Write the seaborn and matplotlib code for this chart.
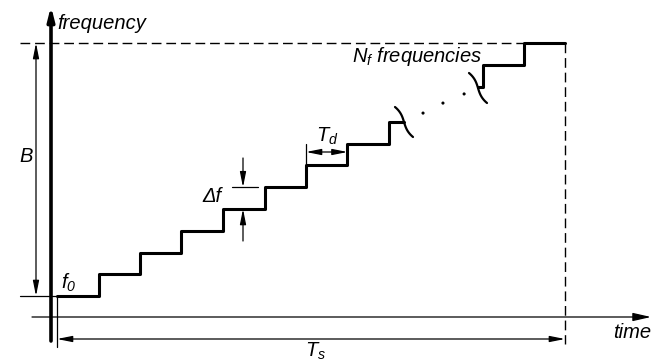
import numpy as np
import pandas as pd
import matplotlib
matplotlib.use("Agg")
import matplotlib.pyplot as plt
import seaborn as sns

# ---- data (time in units of step duration T_d, frequency in units of step size Δf)
first_times = [0, 1, 2, 3, 4, 5, 6, 7, 8, 8.35]
first_levels = [0, 1, 2, 3, 4, 5, 6, 7, 8, 8]
last_times = [10.14, 10.27, 11.25, 12.24]
last_levels = [9.61, 10.62, 11.63, 11.63]
ellipsis_times = [8.82, 9.30, 9.81]
ellipsis_levels = [8.41, 8.87, 9.29]
bandwidth = 11.63    # B
sweep_time = 12.24   # T_s

sns.set_style("white")
plt.rcParams["font.family"] = ["Liberation Sans", "DejaVu Sans"]
plt.rcParams["mathtext.fontset"] = "custom"
plt.rcParams["mathtext.it"] = "Liberation Sans:italic"
plt.rcParams["mathtext.rm"] = "Liberation Sans:italic"

fig = plt.figure(figsize=(6.52, 3.62), dpi=100)
ax = fig.add_axes([0, 0, 1, 1])
ax.set_axis_off()

# layout: pixel -> data helper
X0, SX, Y0, SY = 57.0, 41.5, 296.0, 21.75
def P(xp, yp):
    return ((xp - X0) / SX, (Y0 - yp) / SY)

ax.set_xlim(P(0, 0)[0], P(652, 0)[0])
ax.set_ylim(P(0, 362)[1], P(0, 0)[1])

df1 = pd.DataFrame({"t": first_times, "f": first_levels})
df2 = pd.DataFrame({"t": last_times, "f": last_levels})
for d in (df1, df2):
    sns.lineplot(data=d, x="t", y="f", drawstyle="steps-post", color="black",
                 lw=2.2, estimator=None, sort=False, ax=ax, legend=False)
ax.set_xlabel("")
ax.set_ylabel("")

sns.scatterplot(x=ellipsis_times, y=ellipsis_levels, color="black", s=5,
                edgecolor="none", ax=ax, legend=False)

# break marks
def s_curve(cx, cy, w, h):
    s = np.linspace(-1, 1, 40)
    xs = cx + w * (0.5 * s + 0.5 * s ** 3)
    ys = cy + h * s
    pts = [P(a, b) for a, b in zip(xs, ys)]
    return [p[0] for p in pts], [p[1] for p in pts]
for cx, cy in [(404, 122), (478, 88)]:
    xs, ys = s_curve(cx, cy, 9, 15)
    ax.plot(xs, ys, color="black", lw=1.6, solid_capstyle="round")

# axes of the diagram
ax.annotate("", xy=P(51, 6), xytext=P(51, 341),
            arrowprops=dict(arrowstyle="-|>,head_length=0.8,head_width=0.2",
                            color="black", lw=2.6, shrinkA=0, shrinkB=0))
ax.annotate("", xy=P(651, 317), xytext=P(32, 317),
            arrowprops=dict(arrowstyle="-|>,head_length=1.1,head_width=0.25",
                            color="black", lw=0.9, shrinkA=0, shrinkB=0))

# dashed bandwidth / sweep limits
xl, _ = P(20, 0)
ax.plot([xl, sweep_time], [bandwidth, bandwidth], color="black", lw=1.0,
        linestyle=(0, (7, 3.5)))
ax.plot([sweep_time, sweep_time], [bandwidth, P(0, 344)[1]], color="black",
        lw=1.0, linestyle=(0, (7, 3.5)))
# lower extension for B
ax.plot([xl, 0], [0, 0], color="black", lw=0.9)
# left extension for Ts
ax.plot([0, 0], [0, P(0, 347)[1]], color="black", lw=0.9)

dim = dict(arrowstyle="<|-|>,head_length=0.9,head_width=0.18", color="black",
           lw=0.9, shrinkA=0, shrinkB=0)
one = dict(arrowstyle="-|>,head_length=0.9,head_width=0.18", color="black",
           lw=0.9, shrinkA=0, shrinkB=0)

# B
bx = P(36, 0)[0]
ax.annotate("", xy=(bx, bandwidth), xytext=(bx, 0), arrowprops=dim)
# Ts
ty = P(0, 339)[1]
ax.annotate("", xy=(sweep_time, ty), xytext=(0, ty), arrowprops=dim)
# Td
ax.plot([6, 6], [6, P(0, 144)[1]], color="black", lw=0.9)
tdy = P(0, 152)[1]
ax.annotate("", xy=(7, tdy), xytext=(6, tdy), arrowprops=dim)
# Δf
ax.plot([P(232, 0)[0], P(258, 0)[0]], [5, 5], color="black", lw=0.9)
dfx = P(243, 0)[0]
ax.annotate("", xy=(dfx, 5), xytext=(dfx, P(0, 158)[1]), arrowprops=one)
ax.annotate("", xy=(dfx, 4), xytext=(dfx, P(0, 241)[1]), arrowprops=one)

# texts
fs = 14.5
kw = dict(fontsize=fs, style="italic", color="black", va="center", ha="left")
ax.text(*P(57, 24), "frequency", **kw)
ax.text(*P(19, 157), "B", **kw)
ax.text(*P(61, 283), "$f_0$", **kw)
ax.text(*P(202, 196), "Δf", **kw)
ax.text(*P(316, 136), "$T_d$", **kw)
ax.text(*P(352, 57), "$N_f$ frequencies", **kw)
ax.text(*P(613, 333), "time", **kw)
ax.text(*P(305, 351), "$T_s$", **kw)

fig.savefig("out.png", dpi=100, facecolor="white")
